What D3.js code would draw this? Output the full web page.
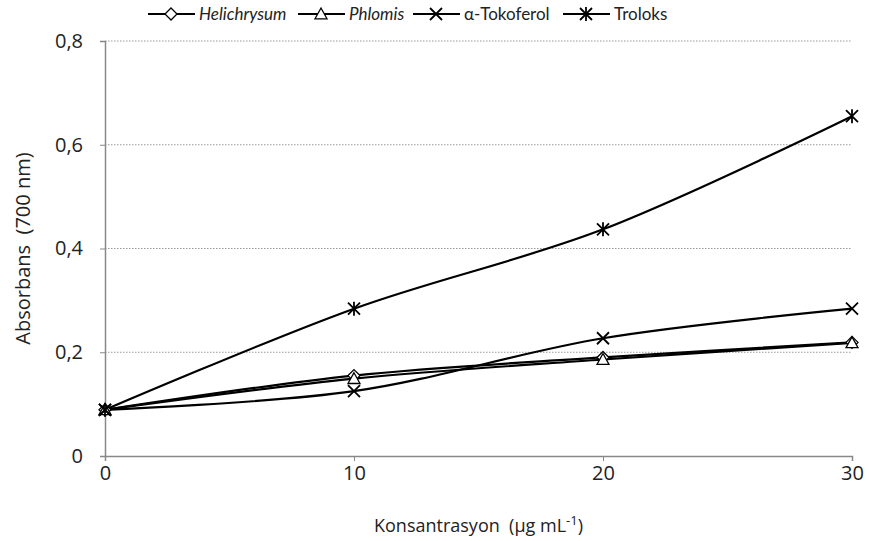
<!DOCTYPE html>
<html>
<head>
<meta charset="utf-8">
<script src="https://cdn.jsdelivr.net/npm/d3@7"></script>
<style>
  body { margin: 0; background: #fff; }
  text { font-family: Lato, "Open Sans", sans-serif; fill: #222; }
</style>
</head>
<body>
<div id="chart"></div>
<script>
let concentrations = [0, 10, 20, 30]
let helichrysum = [0.089, 0.155, 0.19, 0.219]
let phlomis = [0.089, 0.149, 0.186, 0.218]
let tokoferol = [0.089, 0.125, 0.227, 0.284]
let troloks = [0.089, 0.284, 0.437, 0.655]
let yTicks = [0, 0.2, 0.4, 0.6, 0.8]
let xTicks = [0, 10, 20, 30]

let series = [
    { name: 'Helichrysum', values: helichrysum, marker: 'diamond', italic: true },
    { name: 'Phlomis', values: phlomis, marker: 'triangle', italic: true },
    { name: 'α-Tokoferol', values: tokoferol, marker: 'cross', italic: false },
    { name: 'Troloks', values: troloks, marker: 'star', italic: false }
]

let svgWidth = 869
let svgHeight = 541
let padding = { left: 105, right: 17, top: 41, bottom: 85 }

let svg = d3.select('#chart').append('svg')
    .attr('width', svgWidth)
    .attr('height', svgHeight)

let x = d3.scaleLinear()
    .domain([0, 30])
    .range([padding.left, svgWidth - padding.right])
let y = d3.scaleLinear()
    .domain([0, 0.8])
    .range([svgHeight - padding.bottom, padding.top])

let fmt = d => d === 0 ? '0' : d3.format('.1f')(d).replace('.', ',')

// grid lines
svg.append('g')
    .selectAll('line')
    .data(yTicks.filter(d => d > 0))
    .enter()
    .append('line')
    .attr('x1', x(0))
    .attr('x2', x(30))
    .attr('y1', d => y(d))
    .attr('y2', d => y(d))
    .attr('stroke', '#999')
    .attr('stroke-dasharray', '1.5,1.5')

// y axis
let axis_y = d3.axisLeft(y).tickValues(yTicks).tickFormat(fmt).tickSize(5)
let gy = svg.append('g')
    .attr('transform', `translate(${padding.left}, 0)`)
    .call(axis_y)
gy.select('.domain').attr('stroke', '#888').attr('stroke-width', 1.5)
gy.selectAll('.tick line').attr('stroke', '#888')
gy.selectAll('.tick text').attr('font-size', '20px').attr('dx', '-14px')
    .style('font-family', '"Open Sans", sans-serif').attr('fill', '#222')

// x axis
let axis_x = d3.axisBottom(x).tickValues(xTicks).tickFormat(d => d).tickSize(5)
let gx = svg.append('g')
    .attr('transform', `translate(0, ${svgHeight - padding.bottom})`)
    .call(axis_x)
gx.select('.domain').attr('stroke', '#888').attr('stroke-width', 1.5)
gx.selectAll('.tick line').attr('stroke', '#888')
gx.selectAll('.tick text').attr('font-size', '20px').attr('dy', '0.8em')
    .style('font-family', '"Open Sans", sans-serif').attr('fill', '#222')

// axis titles
svg.append('text')
    .attr('x', (x(0) + x(30)) / 2)
    .attr('y', 532)
    .attr('text-anchor', 'middle')
    .attr('font-size', '18px')
    .style('font-family', '"Open Sans", sans-serif')
    .style('white-space', 'pre')
    .html('Konsantrasyon  (μg mL<tspan dy="-7" font-size="13px">-1</tspan><tspan dy="7">)</tspan>')

svg.append('text')
    .attr('transform', `translate(30, ${(y(0) + y(0.8)) / 2}) rotate(-90)`)
    .attr('text-anchor', 'middle')
    .attr('font-size', '20px')
    .style('font-family', '"Open Sans", sans-serif')
    .style('white-space', 'pre')
    .text('Absorbans  (700 nm)')

function drawMarker(g, type, cx, cy) {
    let s = 6
    if (type === 'diamond') {
        g.append('path')
            .attr('d', `M${cx},${cy - s} L${cx + s},${cy} L${cx},${cy + s} L${cx - s},${cy} Z`)
            .attr('fill', '#fff').attr('stroke', '#000').attr('stroke-width', 1.3)
    } else if (type === 'triangle') {
        g.append('path')
            .attr('d', `M${cx},${cy - s} L${cx + s},${cy + s * 0.8} L${cx - s},${cy + s * 0.8} Z`)
            .attr('fill', '#fff').attr('stroke', '#000').attr('stroke-width', 1.3)
    } else if (type === 'cross') {
        g.append('path')
            .attr('d', `M${cx - s},${cy - s} L${cx + s},${cy + s} M${cx + s},${cy - s} L${cx - s},${cy + s}`)
            .attr('stroke', '#000').attr('stroke-width', 1.8)
    } else {
        g.append('path')
            .attr('d', `M${cx - s},${cy - s} L${cx + s},${cy + s} M${cx + s},${cy - s} L${cx - s},${cy + s} M${cx},${cy - s - 1} L${cx},${cy + s + 1}`)
            .attr('stroke', '#000').attr('stroke-width', 1.8)
    }
}

let line = d3.line()
    .x((d, i) => x(concentrations[i]))
    .y(d => y(d))
    .curve(d3.curveCatmullRom.alpha(0.5))

series.forEach(s => {
    svg.append('path')
        .datum(s.values)
        .attr('d', line)
        .attr('fill', 'none')
        .attr('stroke', '#000')
        .attr('stroke-width', 2.2)
})
series.forEach(s => {
    let g = svg.append('g')
    s.values.forEach((v, i) => drawMarker(g, s.marker, x(concentrations[i]), y(v)))
})

// legend
let legendX = [148, 298, 413, 563]
let legend = svg.append('g')
series.forEach((s, i) => {
    let lx = legendX[i]
    legend.append('line')
        .attr('x1', lx).attr('x2', lx + 47)
        .attr('y1', 14).attr('y2', 14)
        .attr('stroke', '#000').attr('stroke-width', 2)
    drawMarker(legend, s.marker, lx + 23, 14)
    legend.append('text')
        .attr('x', lx + 51)
        .attr('y', 20)
        .attr('font-size', '17px')
        .attr('font-style', s.italic ? 'italic' : 'normal')
        .text(s.name)
})
</script>
</body>
</html>
